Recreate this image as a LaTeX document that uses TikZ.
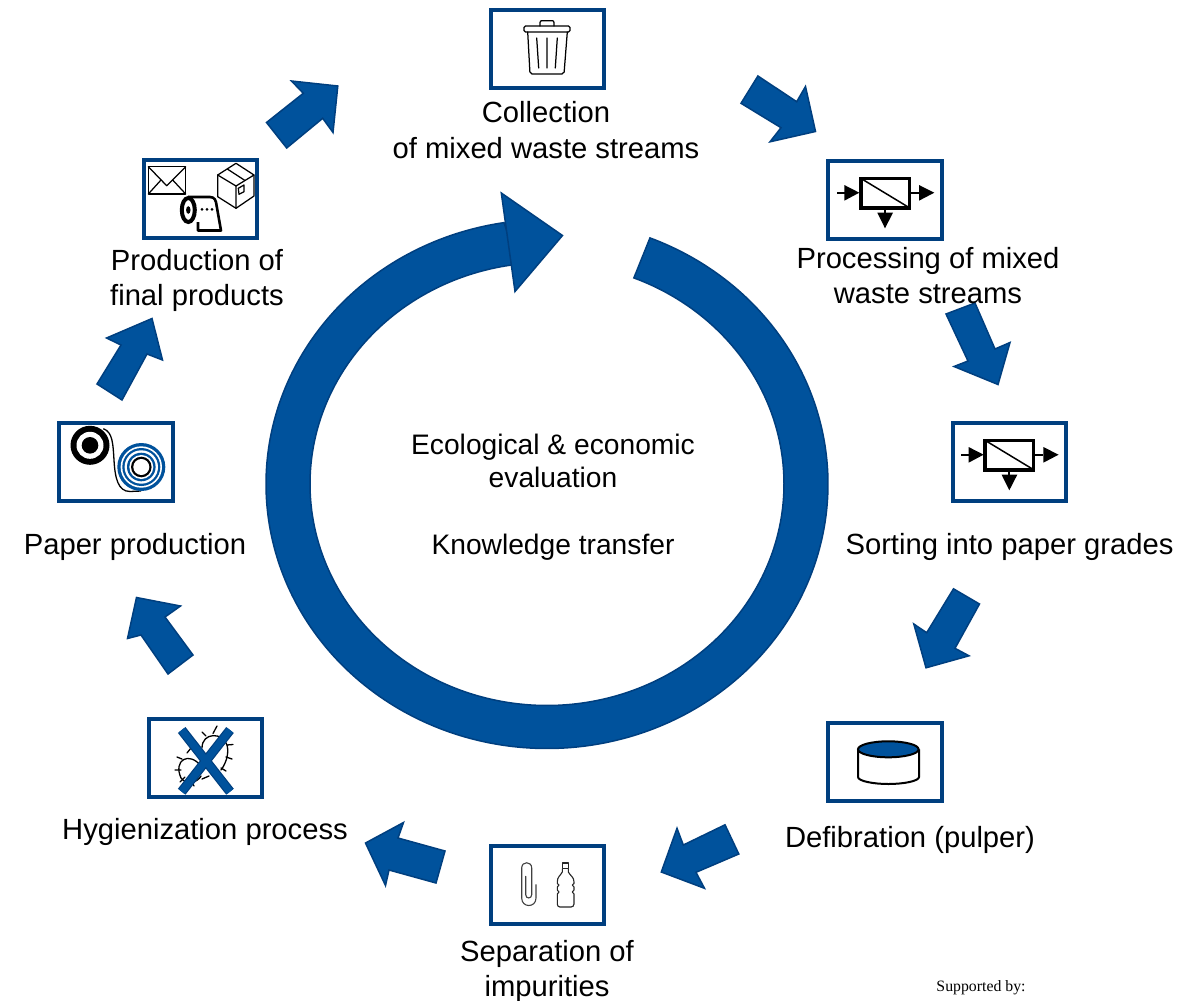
\documentclass[tikz,border=0pt]{standalone}
\usepackage{fontspec}
\setmainfont{Liberation Sans}
\newfontfamily\supfont{Liberation Serif}
\definecolor{bluefill}{HTML}{00529C}
\definecolor{blueedge}{HTML}{003F7F}
\tikzset{
  iconbox/.style={draw=blueedge,line width=4pt,fill=white,minimum width=#1,minimum height=78pt,inner sep=0pt,outer sep=0pt},
  iconbox/.default=113.4pt,
  blockarrow/.style={fill=bluefill,draw=blueedge,line width=1.5pt,line join=miter},
  caption/.style={font=\fontsize{29.2}{35}\selectfont,align=center,inner sep=0pt,text=black},
  ringtext/.style={font=\fontsize{28.2}{33}\selectfont,align=center,inner sep=0pt,text=black},
  thin icon/.style={draw=black,line width=1.25pt,line join=round,line cap=round},
  separator/.pic={
    \draw[black,line width=3.6pt,fill=white] (-24.3,-21.7) rectangle (24.3,7.7);
    \draw[black,line width=1.5pt] (-24.3,-21.7) -- (24.3,7.7);
    \draw[black,line width=1.8pt] (-48,-7.3) -- (-40,-7.3) (24.3,-7.3) -- (34,-7.3) (0,7.7) -- (0,13.3);
    \fill[black] (-40.7,-15) -- (-40.7,.7) -- (-25.7,-7.3) -- cycle;
    \fill[black] (34,-15) -- (34,.7) -- (49.3,-7.3) -- cycle;
    \fill[black] (-7.7,12.7) -- (8,12.7) -- (0,28.3) -- cycle;
  }
}
\begin{document}
\begin{tikzpicture}[x=1pt,y=-1pt]
\useasboundingbox (0,0) rectangle (1178,1001);
% central ring arrow: shaft, then head on top
\path[blockarrow] plot[domain=68.5:-261.2,samples=200,smooth] ({547+281*cos(\x)},{484-264.5*sin(\x)})
  -- plot[domain=-263:68.5,samples=200,smooth] ({547+237*cos(\x)},{484-221.5*sin(\x)}) -- cycle;
\path[blockarrow] (501.3,193) -- (562.5,235.5) -- (515,291.5) -- cycle;
% block arrows
\path[blockarrow] (266.5,122.5) -- (303.3,93.3) -- (291.5,81) -- (337.8,86) -- (333,132.5) -- (322.7,118.3) -- (286.7,148) -- cycle;
\path[blockarrow] (741,103.3) -- (757.9,76) -- (796.7,101.7) -- (805.5,86.5) -- (815.5,131.5) -- (770,141.8) -- (781,127.7) -- cycle;
\path[blockarrow] (946,314) -- (975,303) -- (995,349) -- (1010,342.5) -- (998,384.5) -- (954,366.5) -- (968,361) -- cycle;
\path[blockarrow] (953.5,588.8) -- (979.5,604) -- (955,648.3) -- (969,655.8) -- (926,667.8) -- (913.8,624) -- (926.7,632.7) -- cycle;
\path[blockarrow] (725,824.8) -- (738.8,854) -- (696,872.3) -- (704.5,888.3) -- (661.3,872) -- (677,828.3) -- (683.3,845) -- cycle;
\path[blockarrow] (445,851) -- (436,883) -- (389,870) -- (385.5,885.5) -- (365.5,843) -- (403.5,822.5) -- (398,838) -- cycle;
\path[blockarrow] (193,655) -- (168,674) -- (141,635) -- (127.5,638.5) -- (136.5,597.5) -- (180.5,606) -- (165,617) -- cycle;
\path[blockarrow] (97,384) -- (122,400) -- (147,354) -- (162.5,360) -- (152,318.5) -- (106.5,338) -- (121,345) -- cycle;
% boxes
\node[iconbox] (collect) at (547.3,49) {};
\node[iconbox] (process) at (885,200) {};
\node[iconbox] (sort) at (1009.3,462) {};
\node[iconbox] (defib) at (885,761.5) {};
\node[iconbox] (separate) at (547.3,885) {};
\node[iconbox] (hygiene) at (205.3,758) {};
\node[iconbox] (paper) at (116,462) {};
\node[iconbox] (product) at (200.3,199) {};
% trash can
\draw[thin icon] (540,26) -- (540,22.5) .. controls (540,21) and (541,20.7) .. (542,20.7) -- (552,20.7) .. controls (553,20.7) and (554,21) .. (554,22.5) -- (554,26);
\draw[thin icon,rounded corners=1.5pt] (524,26) rectangle (570,32);
\draw[thin icon,rounded corners=2pt] (527.7,32) -- (530,74) -- (564,74) -- (567.3,32);
\draw[thin icon] (536.7,38) -- (538.7,68) (547,38) -- (547,68) (557.3,38) -- (555.3,68);
% separators
\pic at (process) {separator};
\pic at (sort) {separator};
% drum
\draw[black,line width=2pt,fill=white] (858,749.3) -- (858,777) .. controls (858,781) and (873,784) .. (888.3,784) .. controls (904,784) and (919,781) .. (919,777) -- (919,749.3);
\draw[black,line width=2pt,fill=bluefill] (888.3,749.3) ellipse [x radius=30.3pt,y radius=8pt];
% paperclip
\draw[draw=black!75,line width=1.1pt,line cap=round] (536,884.7) -- (536,898) .. controls (536,908) and (521.7,908) .. (521.7,898) -- (521.7,868) .. controls (521.7,861) and (531.7,861) .. (531.7,868) -- (531.7,894.7) .. controls (531.7,899) and (525.7,899) .. (525.7,894.7) -- (525.7,876.3);
% bottle
\draw[draw=black!85,line width=1.1pt,line join=round] (562.3,863) rectangle (568.3,868.7);
\draw[draw=black!85,line width=1.1pt,line join=round] (562.3,868.7) -- (562.3,872) .. controls (560,876) and (557.3,877) .. (557.3,882) -- (557.3,883.5) -- (559,885) -- (557.3,887) -- (557.3,890) -- (559,892) -- (557.3,894) -- (557.3,904) .. controls (557.3,906) and (558.5,907) .. (560,907) -- (571,907) .. controls (572.5,907) and (574,906) .. (574,904) -- (574,894) -- (572.3,892) -- (574,890) -- (574,887) -- (572.3,885) -- (574,883.5) -- (574,882) .. controls (574,877) and (570.5,876) .. (568.3,872) -- (568.3,868.7);
% bacteria
\begin{scope}[draw=black,line width=1.3pt,line cap=round]
\draw (202,748) .. controls (202,732) and (223,732) .. (227,745) .. controls (229,752) and (227,762) .. (221,770);
\draw (201,766) .. controls (189,751) and (173,760) .. (181,778) .. controls (187,786) and (198,782) .. (201,776);
\draw (213,733.5) -- (217,726) (206,736) -- (202,732) (227,745) -- (233,744.5) (226,757) -- (232,759) (221,768) -- (226,771) (202,779) -- (209,776) (187,753) -- (191,748) (182,759) -- (177,757) (181,770) -- (175,770) (185,777) -- (180,782) (192,782) -- (194,786);
\end{scope}
\draw[blueedge,line width=9.6pt] (181.7,730) -- (230,791.7) (230,730) -- (181.7,791.7);
\draw[bluefill,line width=7.2pt] (181.7,730) -- (230,791.7) (230,730) -- (181.7,791.7);
% rolls
\draw[black,line width=1.3pt] (103.3,428.7) .. controls (113,432) and (113,445) .. (114,460) .. controls (115,478) and (118,491.5) .. (130,491.5) -- (141,491);
\fill[black] (90,445.3) circle [radius=19.5pt];
\fill[white] (90,445.3) circle [radius=13.5pt];
\fill[black] (90,445.3) circle [radius=8.3pt];
\fill[bluefill] (141.3,467) circle [radius=24pt];
\fill[white] (141.3,467) circle [radius=20.7pt];
\fill[bluefill] (141.3,467) circle [radius=19pt];
\fill[white] (141.3,467) circle [radius=16.7pt];
\fill[bluefill] (141.3,467) circle [radius=14.3pt];
\fill[white] (141.3,467) circle [radius=12pt];
\fill[black] (141.3,467) circle [radius=10.3pt];
\fill[white] (141.3,467) circle [radius=8pt];
% envelope
\draw[thin icon] (148.3,166.7) rectangle (185.7,194);
\draw[thin icon] (148.3,166.7) -- (166.7,185.7) -- (185.7,166.7) (148.3,194) -- (161,180) (185.7,194) -- (172.7,180);
% parcel
\draw[thin icon] (236,163.3) -- (254,175) -- (254,196) -- (236,208.3) -- (217.7,196.7) -- (217.7,175) -- cycle;
\draw[thin icon] (217.7,175) -- (236,186) -- (254,175) (236,186) -- (236,208.3);
\draw[thin icon] (227.3,169) -- (245,180.5);
\draw[thin icon] (238.3,188.3) -- (244,185) -- (244,191.7) -- (239,194.3) -- cycle;
% toilet roll
\draw[black,line width=2.6pt,line join=round,fill=white] (188,197) -- (210,197) .. controls (215,197) and (216,201) .. (216.5,205) -- (221,230.5) -- (198,230.5) -- (198,222);
\draw[black,line width=4pt,fill=white] (188.3,210) ellipse [x radius=6.5pt,y radius=12pt];
\fill[black] (188.3,210) ellipse [x radius=2.2pt,y radius=3.8pt];
\fill[black] (202,209.3) circle [radius=1.5pt] (207,209.3) circle [radius=1.5pt] (212,209.3) circle [radius=1.5pt];
% labels
\node[caption,font=\fontsize{29.2}{36}\selectfont] (collectlabel) at (546,130.5) {Collection\\of mixed waste streams};
\node[caption] (processlabel) at (928,276) {Processing of mixed\\waste streams};
\node[caption] (sortlabel) at (1009.5,547) {Sorting into paper grades};
\node[caption] (defiblabel) at (910,840) {Defibration (pulper)};
\node[caption] (separatelabel) at (547,971) {Separation of\\impurities};
\node[caption] (hygienelabel) at (205,832) {Hygienization process};
\node[caption] (paperlabel) at (135,547) {Paper production};
\node[caption] (productlabel) at (197,280) {Production of\\final products};
\node[ringtext] (evallabel) at (553,461) {Ecological \& economic\\evaluation};
\node[ringtext] (transferlabel) at (553,547) {Knowledge transfer};
\node[font=\supfont\fontsize{15.8}{18}\selectfont,inner sep=0pt] (supported) at (981,988) {Supported by:};
\end{tikzpicture}
\end{document}
